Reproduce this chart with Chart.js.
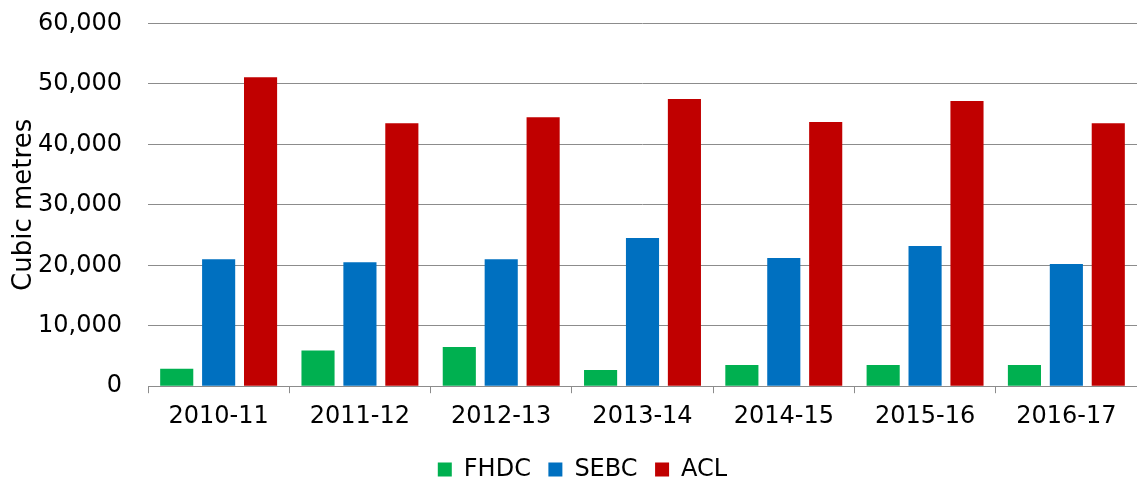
<!DOCTYPE html>
<html>
<head>
<meta charset="utf-8">
<script src="https://cdn.jsdelivr.net/npm/chart.js@4"></script>
<style>
  html, body { margin: 0; padding: 0; background: #fff; }
  #wrap { width: 1137px; height: 480px; }
</style>
</head>
<body>
<div id="wrap"><canvas id="volChart" width="1137" height="480"></canvas></div>
<script>
'use strict'

const years = ['2010-11', '2011-12', '2012-13', '2013-14', '2014-15', '2015-16', '2016-17'];
const fhdc = [2900, 5900, 6500, 2700, 3500, 3500, 3500];
const sebc = [21000, 20500, 21000, 24500, 21200, 23200, 20200];
const acl = [51100, 43500, 44500, 47500, 43700, 47200, 43500];
const yTicks = [0, 10000, 20000, 30000, 40000, 50000, 60000];

{
  const gridColor = '#8c8c8c';
  const fontFamily = '"DejaVu Sans", Verdana, sans-serif';

  const data = {
    labels: years,
    datasets: [
      { label: 'FHDC', data: fhdc, backgroundColor: '#00b050' },
      { label: 'SEBC', data: sebc, backgroundColor: '#0070c0' },
      { label: 'ACL', data: acl, backgroundColor: '#c00000' },
    ]
  };

  const options = {
    responsive: false,
    animation: false,
    datasets: {
      bar: {
        categoryPercentage: 0.89,
        barPercentage: 0.79,
      }
    },
    layout: {
      padding: { top: 23.5, right: 0, left: 0, bottom: -11.5 }
    },
    scales: {
      x: {
        grid: {
          display: true,
          drawOnChartArea: false,
          drawTicks: true,
          tickLength: 7,
          color: gridColor,
          offset: true,
        },
        border: { display: true, color: gridColor, width: 1 },
        ticks: {
          color: '#000',
          font: { family: fontFamily, size: 24 },
          padding: 9,
          maxRotation: 0,
        },
      },
      y: {
        min: 0,
        max: 60000,
        afterBuildTicks: function(axis) {
          axis.ticks = yTicks.map(v => ({ value: v }));
        },
        afterFit: function(axis) {
          axis.width = 148;
        },
        grid: {
          color: gridColor,
          lineWidth: 1,
          drawTicks: true,
          tickLength: 24,
          tickColor: 'rgba(0,0,0,0)',
        },
        border: { display: false },
        ticks: {
          color: '#000',
          font: { family: fontFamily, size: 24 },
          padding: 2,
          callback: function(value) {
            return value.toLocaleString('en-US');
          }
        },
        title: {
          display: true,
          text: 'Cubic metres',
          color: '#000',
          font: { family: fontFamily, size: 26 },
          padding: { top: 9, bottom: 0 },
        },
      },
    },
    plugins: {
      legend: {
        display: true,
        position: 'bottom',
        labels: {
          color: '#000',
          font: { family: fontFamily, size: 24 },
          boxWidth: 14,
          boxHeight: 14,
          padding: 17.5,
        },
      },
      tooltip: { enabled: false },
    },
  };

  // nudge the legend a little right, the original sits off-centre
  const legendShift = {
    id: 'legendShift',
    afterLayout(chart) {
      chart.legend.left += 14;
      chart.legend.right += 14;
    }
  };

  const ctx = document.getElementById('volChart').getContext('2d');
  const volChart = new Chart(ctx, {
    type: 'bar',
    data: data,
    options: options,
    plugins: [legendShift],
  });
}
</script>
</body>
</html>
